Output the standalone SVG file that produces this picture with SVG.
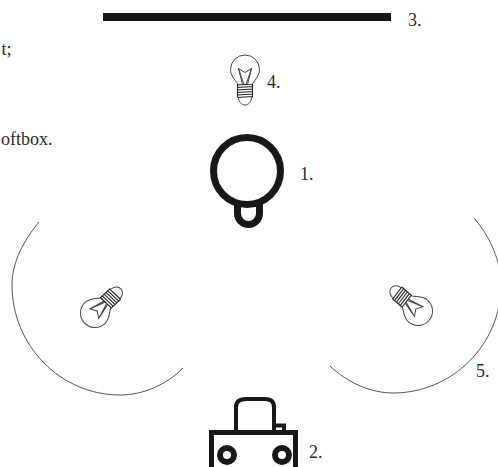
<svg xmlns="http://www.w3.org/2000/svg" width="498" height="467" viewBox="0 0 498 467">
<style>
text{font-family:"Liberation Serif","Times New Roman",serif;font-size:18px;fill:#2a2a2a}
.thick{fill:none;stroke:#1a1718;stroke-width:7}
.arc{fill:none;stroke:#555;stroke-width:1}
.b{fill:none;stroke:#444;stroke-width:1}
.t{fill:none;stroke:#222;stroke-width:1.1}
</style>
<defs>
<g id="bulb">
<path class="b" d="M-7.500 14C-10 10.500-14.500 6-14.500 0A14.500 14.500 0 1 1 14.500 0C14.500 6 10 10.500 7.500 14"/>
<path class="b" d="M-6.500 28C-6.500 32-3.500 35.500 0 35.500C3.500 35.500 6.500 32 6.500 28"/>
<path class="t" d="M-8 15.500L8 14.500M-8 18L8 17M-8 20.500L8 19.500M-8 23L8 22M-7.500 25.500L7.500 24.500M-7 28L7 27M-7.500 14V28M7.500 14V28"/>
<path class="b" d="M-2.500 15L-6.500-1L0 3L6.500-1L2.500 15M-6.500-1L-1 15M6.500-1L1 15"/>
</g>
</defs>
<g id="texts">
<text x="11.500" y="55" text-anchor="end">t;</text>
<text x="52.500" y="145" text-anchor="end">oftbox.</text>
</g>
<g id="backdrop"><rect x="103" y="13" width="288" height="8" fill="#1a1718"/><text x="408" y="26">3.</text></g>
<g id="light4"><use href="#bulb" transform="translate(245 69.500)"/><text x="267" y="88">4.</text></g>
<g id="subject"><circle class="thick" cx="247" cy="171" r="33.500"/><path class="thick" d="M237.500 204V213.500A11 11 0 0 0 259.500 213.500V204"/><text x="300" y="180">1.</text></g>
<g id="light-left"><path class="arc" d="M39 222C24 240 12 262 12 285C12 345.500 60.600 395 120 395C143 395 166 385 183 368"/><use href="#bulb" transform="translate(95 313) rotate(-133)"/></g>
<g id="light-right"><path class="arc" d="M474 218C491 238 501 262 501 285C501 344.400 452.400 393 393 393C371 393 348 383 330 366"/><use href="#bulb" transform="translate(418 311) rotate(131)"/><text x="476" y="377">5.</text></g>
<g id="camera">
<rect x="211.500" y="432.500" width="84" height="50" fill="none" stroke="#1a1718" stroke-width="5"/>
<path fill="none" stroke="#1a1718" stroke-width="4" d="M236 431V407Q236 399 246 399H265Q274 399 274 407V431M275 425.500H284V431"/>
<circle cx="227" cy="455" r="7" fill="none" stroke="#1a1718" stroke-width="6"/>
<circle cx="282" cy="455" r="7" fill="none" stroke="#1a1718" stroke-width="6"/>
<text x="309" y="458">2.</text>
</g>
<g id="connectors"/>
</svg>
